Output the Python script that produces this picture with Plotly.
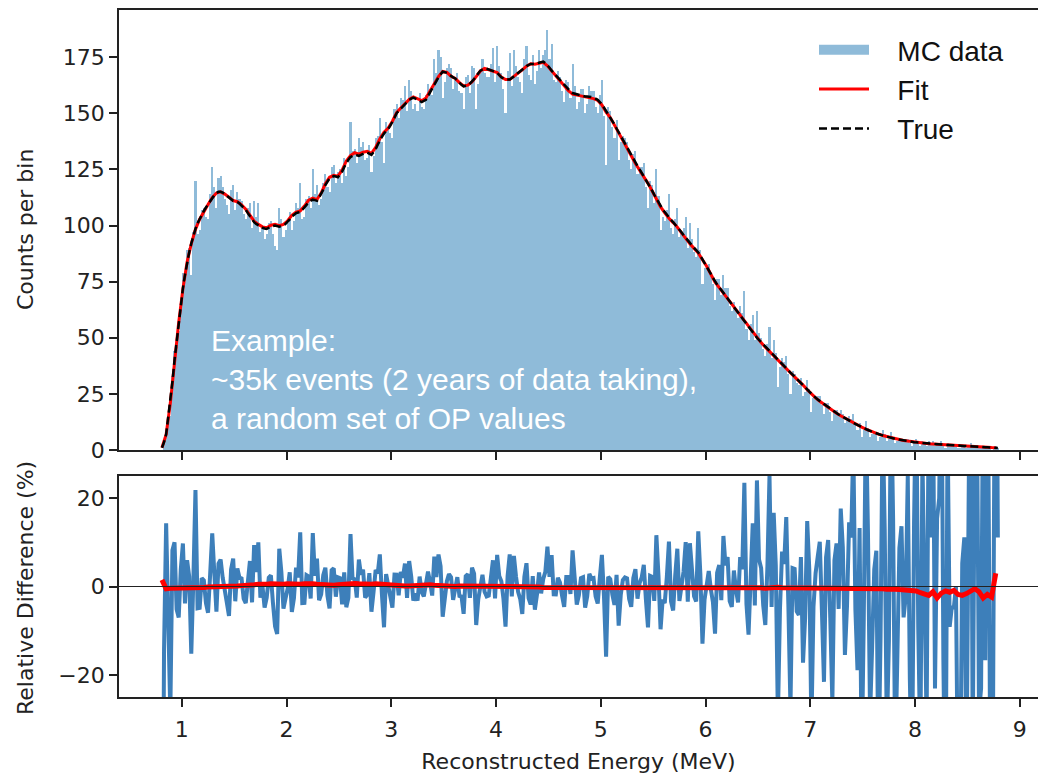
import numpy as np
import plotly.graph_objects as go

# ---------------- data ----------------
bin_start = 0.80
bin_width = 0.02
# MC data: counts per 0.02 MeV bin (400 bins, 0.80 - 8.80 MeV)
counts = [
    0, 3, 8, 13, 15, 33, 44, 46, 53, 67, 79, 75, 89, 90, 78, 97, 120, 96, 98, 107,
    108, 104, 103, 114, 126, 117, 108, 121, 122, 117, 112, 109, 105, 116, 118, 107, 115, 112, 111, 105,
    103, 108, 110, 99, 111, 104, 110, 97, 99, 94, 96, 101, 102, 96, 91, 89, 108, 103, 95, 98,
    101, 106, 98, 102, 110, 108, 119, 103, 104, 112, 113, 108, 125, 114, 118, 109, 112, 119, 123, 117,
    115, 126, 127, 119, 124, 125, 119, 130, 122, 126, 146, 133, 134, 128, 139, 135, 137, 129, 130, 136,
    124, 131, 139, 140, 148, 137, 128, 146, 143, 141, 139, 152, 154, 148, 157, 156, 162, 151, 165, 160,
    152, 154, 151, 159, 153, 152, 158, 163, 161, 158, 174, 168, 178, 175, 157, 164, 170, 172, 170, 161,
    165, 168, 160, 159, 152, 166, 167, 159, 171, 170, 152, 163, 169, 174, 168, 166, 166, 172, 179, 164,
    180, 171, 168, 161, 150, 169, 177, 162, 178, 171, 166, 164, 159, 174, 180, 167, 165, 176, 163, 169,
    178, 170, 176, 178, 187, 174, 181, 165, 164, 169, 166, 160, 155, 165, 164, 157, 172, 162, 152, 155,
    161, 161, 150, 154, 162, 160, 160, 153, 150, 158, 165, 149, 127, 153, 151, 144, 139, 147, 129, 137,
    140, 139, 137, 129, 125, 132, 133, 123, 126, 126, 128, 117, 108, 120, 118, 110, 125, 113, 98, 104,
    102, 107, 114, 99, 96, 103, 108, 95, 97, 99, 104, 90, 101, 94, 88, 86, 99, 89, 74, 81,
    82, 83, 78, 74, 67, 76, 76, 69, 78, 72, 72, 64, 62, 66, 62, 59, 64, 61, 71, 54,
    49, 56, 60, 49, 62, 52, 50, 45, 42, 47, 55, 41, 49, 43, 28, 37, 41, 39, 42, 34,
    25, 35, 34, 30, 29, 32, 24, 26, 31, 27, 17, 23, 24, 24, 24, 20, 16, 21, 21, 17,
    13, 18, 18, 15, 18, 16, 12, 13, 15, 14, 16, 11, 9, 12, 6, 9, 13, 10, 6, 7,
    8, 8, 4, 6, 9, 7, 4, 5, 8, 6, 3, 4, 5, 5, 4, 4, 5, 3, 2, 4,
    5, 3, 2, 4, 3, 2, 4, 3, 4, 2, 3, 3, 4, 2, 1, 3, 2, 2, 2, 2,
    1, 1, 2, 2, 1, 2, 3, 1, 2, 2, 1, 1, 2, 1, 2, 1, 0, 1, 2, 1,
]

# True spectrum (counts per bin) at the even bin centres: 0.81, 0.85, ... 8.77 MeV
true_even = [
    1, 7, 21, 40, 57, 72, 84, 92, 98.5, 103,
    106.5, 109.5, 112.5, 114.5, 115, 114, 112.5, 111, 110.5, 109,
    107, 104, 101.5, 100, 99, 98.5, 99.5, 100, 99.5, 100,
    101.5, 104, 105.5, 106, 108, 110.5, 111.5, 111, 114, 118,
    121, 122, 121.5, 124, 128, 130.5, 131.5, 131, 132, 132.5,
    131.5, 134, 138, 141, 143, 146, 150, 152, 154, 156,
    157, 156, 155, 156, 159.5, 163, 166, 168.5, 168, 166.5,
    165.5, 163.5, 162, 162.5, 164, 166.5, 169, 170, 169.5, 169,
    168, 166, 165, 165, 166.5, 168, 169.5, 171, 172, 172,
    172.5, 173, 171.5, 169, 167, 164.5, 162.5, 160.5, 159, 158.5,
    158, 157.5, 157.5, 157, 156, 154, 151, 148.5, 145, 141.5,
    138, 134.5, 131, 128, 125, 122, 119, 115.5, 112, 108.5,
    106, 103.5, 101.5, 99.5, 97, 94.5, 92, 90, 88, 85,
    82, 78.5, 75, 72.5, 70, 67.5, 65, 62.5, 60, 57.5,
    55, 52.5, 50, 48, 46, 44, 42, 40, 38, 36.3,
    34.5, 32.7, 31, 29, 27, 25, 23.3, 21.8, 20.4, 19,
    17.6, 16.4, 15.3, 14.2, 13.1, 12.1, 11.1, 10.2, 9.3, 8.5,
    7.7, 7.1, 6.5, 6.0, 5.5, 5.0, 4.6, 4.3, 4.0, 3.7,
    3.4, 3.2, 3.0, 2.8, 2.7, 2.6, 2.5, 2.3, 2.2, 2.1,
    2.0, 1.9, 1.8, 1.7, 1.5, 1.4, 1.3, 1.2, 1.1, 1.0,
]
# True spectrum at the odd bin centres: 0.83, 0.87, ... 8.79 MeV
true_odd = [
    3.5, 14, 30.5, 48.5, 64.5, 78, 88, 95.5, 101, 105,
    108, 111, 113.5, 115, 114.7, 113.2, 111.7, 110.7, 109.8, 108,
    105.5, 102.7, 100.7, 99.5, 98.7, 99, 99.8, 99.7, 99.7, 100.7,
    102.7, 104.8, 105.8, 107, 109.2, 111, 111.3, 112.5, 116, 119.5,
    121.5, 121.8, 122.7, 126, 129.3, 131, 131.3, 131.5, 132.3, 132,
    132.7, 136, 139.5, 142, 144.5, 148, 151, 153, 155, 156.5,
    156.5, 155.5, 155.5, 157.7, 161.3, 164.5, 167.3, 168.3, 167.3, 166,
    164.5, 162.7, 162.2, 163.2, 165.2, 167.8, 169.5, 169.8, 169.2, 168.5,
    167, 165.5, 165, 165.7, 167.2, 168.7, 170.2, 171.5, 172, 172.2,
    172.7, 172.3, 170.3, 168, 165.7, 163.5, 161.5, 159.7, 158.7, 158.2,
    157.7, 157.5, 157.2, 156.5, 155, 152.5, 149.7, 146.7, 143.2, 139.7,
    136.2, 132.7, 129.5, 126.5, 123.5, 120.5, 117.2, 113.7, 110.2, 107.2,
    104.7, 102.5, 100.5, 98.2, 95.7, 93.2, 91, 89, 86.5, 83.5,
    80.2, 76.7, 73.7, 71.2, 68.7, 66.2, 63.7, 61.2, 58.7, 56.2,
    53.7, 51.2, 49, 47, 45, 43, 41, 39, 37.1, 35.4,
    33.6, 31.8, 30, 28, 26, 24.1, 22.5, 21.1, 19.7, 18.3,
    17, 15.8, 14.7, 13.6, 12.6, 11.6, 10.6, 9.7, 8.9, 8.1,
    7.4, 6.8, 6.2, 5.7, 5.2, 4.8, 4.4, 4.1, 3.8, 3.5,
    3.3, 3.1, 2.9, 2.7, 2.6, 2.5, 2.4, 2.2, 2.1, 2.0,
    1.9, 1.8, 1.7, 1.6, 1.4, 1.3, 1.2, 1.1, 1.0, 0.9,
]

# Fit relative to True (%), at the even bin centres
fit_rel = [
    1.5, -0.5, -0.4, -0.4, -0.3, -0.3, -0.3, -0.2, -0.2, -0.2,
    -0.2, -0.1, -0.1, 0.0, 0.0, 0.0, 0.1, 0.1, 0.1, 0.2,
    0.2, 0.3, 0.4, 0.5, 0.4, 0.5, 0.6, 0.5, 0.4, 0.5,
    0.6, 0.5, 0.4, 0.5, 0.6, 0.7, 0.6, 0.5, 0.4, 0.5,
    0.4, 0.3, 0.4, 0.5, 0.6, 0.5, 0.7, 0.6, 0.5, 0.4,
    0.5, 0.6, 0.5, 0.4, 0.3, 0.3, 0.2, 0.2, 0.1, 0.1,
    0.2, 0.3, 0.4, 0.5, 0.4, 0.3, 0.2, 0.1, 0.1, 0.0,
    0.0, 0.1, 0.1, 0.0, 0.0, -0.1, -0.1, 0.0, 0.0, 0.0,
    0.1, 0.1, 0.0, 0.0, -0.1, -0.1, -0.1, 0.0, 0.0, -0.1,
    -0.1, -0.2, -0.2, -0.1, -0.1, -0.2, -0.2, -0.3, -0.3, -0.2,
    -0.2, -0.2, -0.3, -0.3, -0.2, -0.2, -0.3, -0.3, -0.2, -0.2,
    -0.1, -0.2, -0.2, -0.3, -0.3, -0.2, -0.2, -0.1, -0.2, -0.2,
    -0.3, -0.3, -0.2, -0.2, -0.3, -0.3, -0.2, -0.2, -0.3, -0.3,
    -0.2, -0.3, -0.3, -0.2, -0.2, -0.3, -0.3, -0.2, -0.3, -0.3,
    -0.2, -0.2, -0.3, -0.3, -0.4, -0.3, -0.3, -0.2, -0.3, -0.3,
    -0.3, -0.4, -0.3, -0.3, -0.4, -0.3, -0.3, -0.4, -0.4, -0.3,
    -0.3, -0.3, -0.4, -0.3, -0.3, -0.4, -0.4, -0.3, -0.4, -0.5,
    -0.4, -0.5, -0.5, -0.6, -0.5, -0.6, -0.7, -0.8, -0.7, -0.8,
    -1.0, -1.4, -1.6, -2.0, -1.2, -2.6, -1.5, -1.0, -1.3, -0.9,
    -1.8, -2.0, -1.6, -1.0, -0.5, -1.2, -2.6, -1.8, -2.4, 3.0,
]

x_ticks = [1, 2, 3, 4, 5, 6, 7, 8, 9]
y_ticks_top = [0, 25, 50, 75, 100, 125, 150, 175]
y_ticks_bottom = [-20, 0, 20]

# ---------------- derived ----------------
counts_arr = np.array(counts, dtype=float)
n = len(counts_arr)
centers = bin_start + bin_width * (np.arange(n) + 0.5)
true_all = np.empty(n)
true_all[0::2] = true_even
true_all[1::2] = true_odd
even_x = centers[0::2]
fit_arr = np.array(true_even) * (1 + np.array(fit_rel) / 100.0)
data_rel = (counts_arr - true_all) / true_all * 100.0

# ---------------- layout helpers ----------------
W, H = 1038, 777
L, R, T, B = 119, 0, 10, 80
pw, ph = W - L - R, H - T - B


def fx(px):
    return (px - L) / pw


def fy(py):
    return (H - B - py) / ph


top_dom = [fy(450), 1.0]
bot_dom = [0.0, fy(476)]
xr = [0.4, 0.4 + pw / 104.75]

AX = "#222222"
TICKFONT = dict(family="DejaVu Sans", size=22, color="#222222")
BLUE_FILL = "#8fbbd9"
BLUE_LINE = "#3d7fba"
PAD = "\u00a0\u00a0\u00a0"

fig = go.Figure()
fig.add_trace(go.Bar(x=centers, y=counts_arr, width=bin_width, name="MC data",
                     legendgroup="mc", showlegend=False,
                     marker=dict(color=BLUE_FILL, line=dict(width=0)),
                     xaxis="x", yaxis="y"))
# legend entry for the histogram (wide patch like the reference)
fig.add_trace(go.Scatter(x=[None], y=[None], mode="lines", name=PAD + "MC data",
                         legendgroup="mc", line=dict(color=BLUE_FILL, width=18),
                         xaxis="x", yaxis="y"))
fig.add_trace(go.Scatter(x=even_x, y=fit_arr, mode="lines", name=PAD + "Fit",
                         line=dict(color="#ff0000", width=3), xaxis="x", yaxis="y"))
fig.add_trace(go.Scatter(x=centers, y=true_all, mode="lines", name=PAD + "True",
                         line=dict(color="#000000", width=2.5, dash="8px,4px"),
                         xaxis="x", yaxis="y"))
fig.add_trace(go.Scatter(x=centers, y=data_rel, mode="lines", showlegend=False,
                         line=dict(color=BLUE_LINE, width=4), xaxis="x2", yaxis="y2"))
fig.add_trace(go.Scatter(x=even_x, y=fit_rel, mode="lines", showlegend=False,
                         line=dict(color="#ff0000", width=5), xaxis="x2", yaxis="y2"))

fig.add_shape(type="line", xref="x2 domain", yref="y2", x0=0, x1=1, y0=0, y1=0,
              line=dict(color="#222222", width=1.2))

common_x = dict(range=xr, tickvals=x_ticks, ticks="outside", ticklen=8, tickwidth=1.6,
                tickcolor=AX, showline=True, linecolor=AX, linewidth=1.6, mirror=True,
                showgrid=False, zeroline=False, tickfont=TICKFONT)
common_y = dict(ticks="outside", ticklen=8, tickwidth=1.6, tickcolor=AX, showline=True,
                linecolor=AX, linewidth=1.6, showgrid=False, zeroline=False, tickfont=TICKFONT)

fig.update_layout(
    width=W, height=H,
    margin=dict(l=L, r=R, t=T, b=B),
    paper_bgcolor="white", plot_bgcolor="white",
    bargap=0,
    xaxis=dict(domain=[0, 1], anchor="y", showticklabels=False, **common_x),
    yaxis=dict(domain=top_dom, anchor="x", range=[0, 196], tickvals=y_ticks_top, **common_y),
    xaxis2=dict(domain=[0, 1], anchor="y2", matches="x", ticklabelstandoff=4,
                title=dict(text="Reconstructed Energy (MeV)", standoff=12,
                           font=dict(family="DejaVu Sans", size=22, color="#222222")),
                **common_x),
    yaxis2=dict(domain=bot_dom, anchor="x2", range=[-25, 25], tickvals=y_ticks_bottom, **common_y),
    legend=dict(x=fx(814), y=fy(25), xanchor="left", yanchor="top",
                bgcolor="rgba(255,255,255,0.8)", borderwidth=0,
                font=dict(family="Liberation Sans", size=28, color="#111111"),
                itemwidth=50, tracegroupgap=0),
    showlegend=True,
)

fig.add_annotation(text="Counts per bin", xref="paper", yref="paper", x=fx(25), y=fy(230),
                   textangle=-90, showarrow=False, xanchor="center", yanchor="middle",
                   font=dict(family="DejaVu Sans", size=22, color="#222222"))
fig.add_annotation(text="Relative Difference (%)", xref="paper", yref="paper", x=fx(25), y=fy(588),
                   textangle=-90, showarrow=False, xanchor="center", yanchor="middle",
                   font=dict(family="DejaVu Sans", size=22, color="#222222"))
fig.add_annotation(text="Example:<br>~35k events (2 years of data taking),<br>a random set of OP values",
                   xref="paper", yref="paper", x=fx(209), y=fy(322), xanchor="left", yanchor="top",
                   align="left", showarrow=False,
                   font=dict(family="Liberation Sans", size=30, color="white"))

fig.write_html("out.html")
